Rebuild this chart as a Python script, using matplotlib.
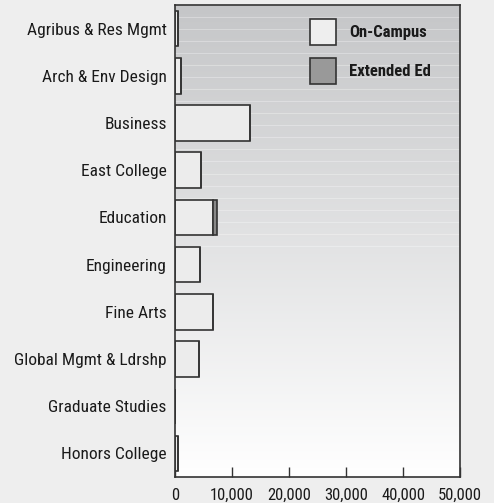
import numpy as np
import matplotlib.pyplot as plt
from matplotlib.colors import LinearSegmentedColormap
from matplotlib.patches import Rectangle

colleges = ["Agribus & Res Mgmt", "Arch & Env Design", "Business", "East College",
            "Education", "Engineering", "Fine Arts", "Global Mgmt & Ldrshp",
            "Graduate Studies", "Honors College"]
on_campus = [550, 1000, 13100, 4500, 6700, 4400, 6700, 4200, 0, 600]
extended_ed = [0, 0, 0, 0, 700, 0, 0, 0, 0, 0]
x_ticks = [0, 10000, 20000, 30000, 40000, 50000]
legend_labels = ["On-Campus", "Extended Ed"]
legend_colors = ["#eeeeee", "#999999"]

plt.rcParams['font.family'] = ['Roboto Condensed', 'Liberation Sans', 'DejaVu Sans']

W, H = 494, 503
fig = plt.figure(figsize=(W / 100, H / 100), dpi=100, facecolor="#eeeeee")
ax = fig.add_axes([175 / W, 1 - 477 / H, 285 / W, 472 / H])

# background gradient, grey at top fading to white
n = len(colleges)
grad = np.linspace(0, 1, 256).reshape(-1, 1)
cmap = LinearSegmentedColormap.from_list("g", ["#ffffff", "#c5c6c8"])
ax.imshow(grad, extent=[0, 50000, -0.5, n - 0.5], aspect="auto",
          cmap=cmap, origin="lower", zorder=0)
# faint stripes in the upper part
for yy in np.arange(n - 0.5, 4.3, -0.255):
    ax.axhline(yy, color="white", alpha=0.3, lw=0.8, zorder=0.5)

y = np.arange(n)[::-1]
ax.barh(y, on_campus, height=0.75, color="#ececec", edgecolor="#333333", linewidth=1.2, zorder=2)
ax.barh(y, extended_ed, left=on_campus, height=0.75, color="#888888", edgecolor="#333333",
        linewidth=1.2, zorder=2)

ax.set_xlim(0, 50000)
ax.set_ylim(-0.5, n - 0.5)
ax.set_yticks(y)
ax.set_yticklabels(colleges, fontsize=12.5, color="#1a1a1a")
ax.tick_params(axis="y", length=0, pad=6)
ax.set_xticks(x_ticks)
ax.set_xticklabels([f"{v:,}" for v in x_ticks], fontsize=12, color="#1a1a1a")
ax.tick_params(axis="x", direction="in", length=7, width=1, color="#333333", pad=8)
for s in ax.spines.values():
    s.set_color("#333333")
    s.set_linewidth(1.2)

# legend drawn by hand so the boxes are square
for i, (lab, col) in enumerate(zip(legend_labels, legend_colors)):
    top = 19 + i * 39
    fig.patches.append(Rectangle((310 / W, 1 - (top + 26) / H), 26 / W, 26 / H,
                                 transform=fig.transFigure, facecolor=col,
                                 edgecolor="#333333", linewidth=1.2, zorder=5))
    fig.text(349 / W, 1 - (top + 13) / H, lab, fontsize=12, fontweight="bold",
             color="#1a1a1a", va="center", ha="left")

fig.savefig("out.png", dpi=100, facecolor=fig.get_facecolor())
